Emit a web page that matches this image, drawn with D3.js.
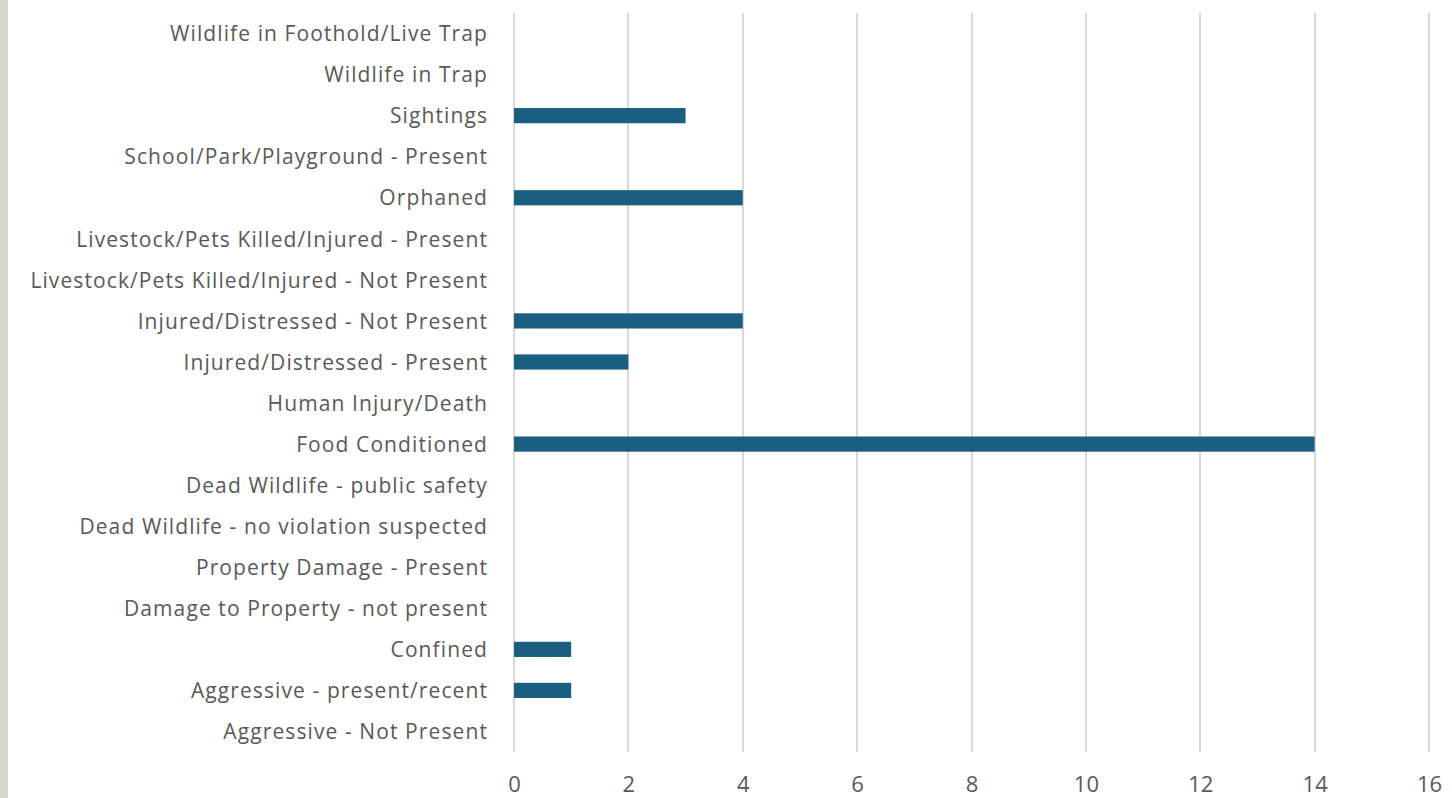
<!DOCTYPE html>
<html lang="en">
  <head>
    <meta charset="UTF-8"/>
    <title>Wildlife calls</title>
    <script src="https://d3js.org/d3.v7.min.js"></script>
    <style>
        body {
          margin: 0;
          background: #fff;
        }
        .strip {
          fill: #d3d9cf;
        }
        .grid line {
          stroke: #d9d9d9;
          stroke-width: 2;
          shape-rendering: crispEdges;
        }
        .axis text {
          fill: #595959;
          font-family: "Open Sans", sans-serif;
        }
        .bar {
          fill: #1a5e80;
        }
    </style>
  </head>
  <body>
    <script>
        // categories, top to bottom
        const categories = [
          "Wildlife in Foothold/Live Trap",
          "Wildlife in Trap",
          "Sightings",
          "School/Park/Playground - Present",
          "Orphaned",
          "Livestock/Pets Killed/Injured - Present",
          "Livestock/Pets Killed/Injured - Not Present",
          "Injured/Distressed - Not Present",
          "Injured/Distressed - Present",
          "Human Injury/Death",
          "Food Conditioned",
          "Dead Wildlife - public safety",
          "Dead Wildlife - no violation suspected",
          "Property Damage - Present",
          "Damage to Property - not present",
          "Confined",
          "Aggressive - present/recent",
          "Aggressive - Not Present"
        ]
        const counts = [0, 0, 3, 0, 4, 0, 0, 4, 2, 0, 14, 0, 0, 0, 0, 1, 1, 0]
        const xTicks = [0, 2, 4, 6, 8, 10, 12, 14, 16]

        const width = 1452, height = 798
        const plot = {left: 514, right: 1429, top: 13, bottom: 752}

        const svg = d3.select("body").append("svg")
            .attr("width", width)
            .attr("height", height)

        // grey-green strip at the left edge
        svg.append("rect")
            .attr("class", "strip")
            .attr("width", 8)
            .attr("height", height)

        const x = d3.scaleLinear()
            .domain([0, 16])
            .range([plot.left, plot.right])

        const y = d3.scaleBand()
            .domain(categories)
            .range([plot.top, plot.bottom])
            .padding(0)

        // vertical gridlines
        svg.append("g")
            .attr("class", "grid")
          .selectAll("line")
          .data(xTicks)
          .join("line")
            .attr("x1", d => x(d))
            .attr("x2", d => x(d))
            .attr("y1", plot.top)
            .attr("y2", plot.bottom)

        // x tick labels
        const xAxis = d3.axisBottom(x)
            .tickValues(xTicks)
            .tickSize(0)
            .tickPadding(0)

        svg.append("g")
            .attr("class", "axis")
            .attr("transform", `translate(0, ${plot.bottom + 24})`)
            .call(xAxis)
            .call(g => g.select(".domain").remove())
            .selectAll("text")
            .attr("font-size", 22)
            .attr("dy", "0.71em")

        // category labels
        const yAxis = d3.axisLeft(y)
            .tickSize(0)
            .tickPadding(26)

        svg.append("g")
            .attr("class", "axis")
            .attr("transform", `translate(${plot.left}, 1)`)
            .call(yAxis)
            .call(g => g.select(".domain").remove())
            .selectAll("text")
            .attr("font-size", 21)
            .attr("letter-spacing", "1.1px")

        // bars
        const barH = y.bandwidth() * 0.37
        svg.append("g")
          .selectAll("rect")
          .data(categories.map((c, i) => ({c, v: counts[i]})).filter(d => d.v > 0))
          .join("rect")
            .attr("class", "bar")
            .attr("x", x(0))
            .attr("y", d => y(d.c) + (y.bandwidth() - barH) / 2)
            .attr("width", d => x(d.v) - x(0))
            .attr("height", barH)
    </script>
  </body>
</html>
